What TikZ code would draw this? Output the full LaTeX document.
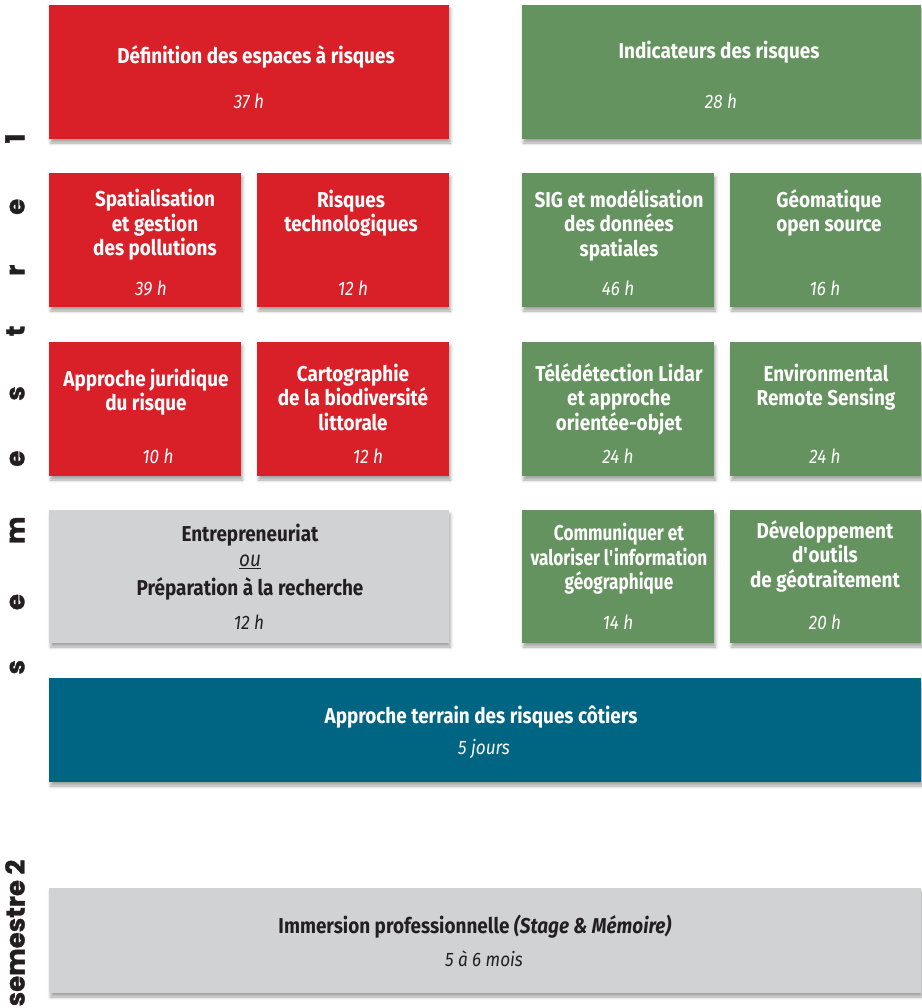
\documentclass[tikz,border=0pt]{standalone}
\usepackage{fontspec}
\setmainfont{Fira Sans}[FakeStretch=0.88]
\newfontfamily\semfont{Poppins}[BoldFeatures={FakeBold=1.2}]
\usetikzlibrary{shadows.blur}

\definecolor{rouge}{HTML}{D92028}
\definecolor{vert}{HTML}{64935F}
\definecolor{bleu}{HTML}{006583}
\definecolor{gris}{HTML}{D1D2D4}
\definecolor{encre}{HTML}{231F20}

\tikzset{
    bloc/.style={anchor=north west, inner sep=0pt, outer sep=0pt,
        blur shadow={shadow xshift=1.5pt, shadow yshift=-4pt,
            shadow blur radius=3pt, shadow opacity=35}},
    rougebloc/.style={bloc, fill=rouge},
    vertbloc/.style={bloc, fill=vert},
    titre/.style={text=white, align=center,
        font=\bfseries\fontsize{21.5}{24.5}\selectfont},
    serre/.style={titre,
        font=\bfseries\fontsize{21.5}{24.5}\selectfont\addfontfeature{FakeStretch=0.8}},
    duree/.style={text=white, font=\itshape\fontsize{19.5}{20}\selectfont},
    semestre/.style={text=encre, rotate=90,
        font=\semfont\bfseries\fontsize{26}{26}\selectfont}
}

\begin{document}
\begin{tikzpicture}[x=1pt, y=-1pt]
    \useasboundingbox (0,0) rectangle (921,1008);

    % semestre 1
    \draw
    (49,5) node[rougebloc, minimum width=400pt, minimum height=134pt] (definition) {}
    (522,5) node[vertbloc, minimum width=399pt, minimum height=134pt] (indicateurs) {}
    (49,173) node[rougebloc, minimum width=192pt, minimum height=134pt] (spatial) {}
    (257,173) node[rougebloc, minimum width=192pt, minimum height=134pt] (techno) {}
    (522,173) node[vertbloc, minimum width=192pt, minimum height=134pt] (sig) {}
    (730,173) node[vertbloc, minimum width=191pt, minimum height=134pt] (geomatique) {}
    (49,342) node[rougebloc, minimum width=192pt, minimum height=134pt] (juridique) {}
    (257,342) node[rougebloc, minimum width=192pt, minimum height=134pt] (carto) {}
    (522,342) node[vertbloc, minimum width=192pt, minimum height=134pt] (lidar) {}
    (730,342) node[vertbloc, minimum width=191pt, minimum height=134pt] (remote) {}
    (49,510) node[bloc, fill=gris, minimum width=400pt, minimum height=133pt] (entrepreneuriat) {}
    (522,510) node[vertbloc, minimum width=192pt, minimum height=133pt] (communiquer) {}
    (730,510) node[vertbloc, minimum width=191pt, minimum height=133pt] (outils) {}
    (49,678) node[bloc, fill=bleu, minimum width=872pt, minimum height=104pt] (terrain) {};

    \node[titre] (t-definition) at (256,57) {Définition des espaces à risques};
    \node[duree] (h-definition) at (249,101) {37 h};
    \node[titre] (t-indicateurs) at (719,52) {Indicateurs des risques};
    \node[duree] (h-indicateurs) at (721,101) {28 h};

    \node[titre] (t-spatial) at (155,225) {Spatialisation\\et gestion\\des pollutions};
    \node[duree] (h-spatial) at (151,288) {39 h};
    \node[titre] (t-techno) at (351,213) {Risques\\technologiques};
    \node[duree] (h-techno) at (353,288) {12 h};
    \node[titre] (t-sig) at (619,225) {SIG et modélisation\\des données\\spatiales};
    \node[duree] (h-sig) at (618,288) {46 h};
    \node[titre] (t-geomatique) at (829,213) {Géomatique\\open source};
    \node[duree] (h-geomatique) at (825,288) {16 h};

    \node[titre] (t-juridique) at (146,392) {Approche juridique\\du risque};
    \node[duree] (h-juridique) at (158,456) {10 h};
    \node[titre] (t-carto) at (353,397) {Cartographie\\de la biodiversité\\littorale};
    \node[duree] (h-carto) at (368,456) {12 h};
    \node[titre] (t-lidar) at (619,399) {Télédétection Lidar\\et approche\\orientée-objet};
    \node[duree] (h-lidar) at (618,456) {24 h};
    \node[titre] (t-remote) at (826,387) {Environmental\\Remote Sensing};
    \node[duree] (h-remote) at (825,456) {24 h};

    \node[titre, text=encre] (t-entrepreneuriat) at (250,562)
        {Entrepreneuriat\\[1pt]{\mdseries\itshape\underline{ou}}\\[4pt]Préparation à la recherche};
    \node[duree, text=encre] (h-entrepreneuriat) at (249,622) {12 h};
    \node[serre] (t-communiquer) at (619,559) {Communiquer et\\valoriser l\textquotesingle information\\géographique};
    \node[duree] (h-communiquer) at (618,622) {14 h};
    \node[titre] (t-outils) at (825,556) {Développement\\d\textquotesingle outils\\de géotraitement};
    \node[duree] (h-outils) at (825,622) {20 h};

    \node[titre] (t-terrain) at (481,717) {Approche terrain des risques côtiers};
    \node[duree] (h-terrain) at (484,749) {5 jours};

    % semestre 2
    \node[bloc, fill=gris, minimum width=872pt, minimum height=105pt] (immersion) at (49,888) {};
    \node[titre, text=encre] (t-immersion) at (475,927)
        {Immersion professionnelle \textit{(Stage \& Mémoire)}};
    \node[duree, text=encre] (h-immersion) at (484,959) {5 à 6 mois};

    \node[semestre] (sem1) at (15,404) {\addfontfeature{LetterSpace=192}semestre 1};
    \node[semestre] (sem2) at (15,933) {semestre 2};
\end{tikzpicture}
\end{document}
